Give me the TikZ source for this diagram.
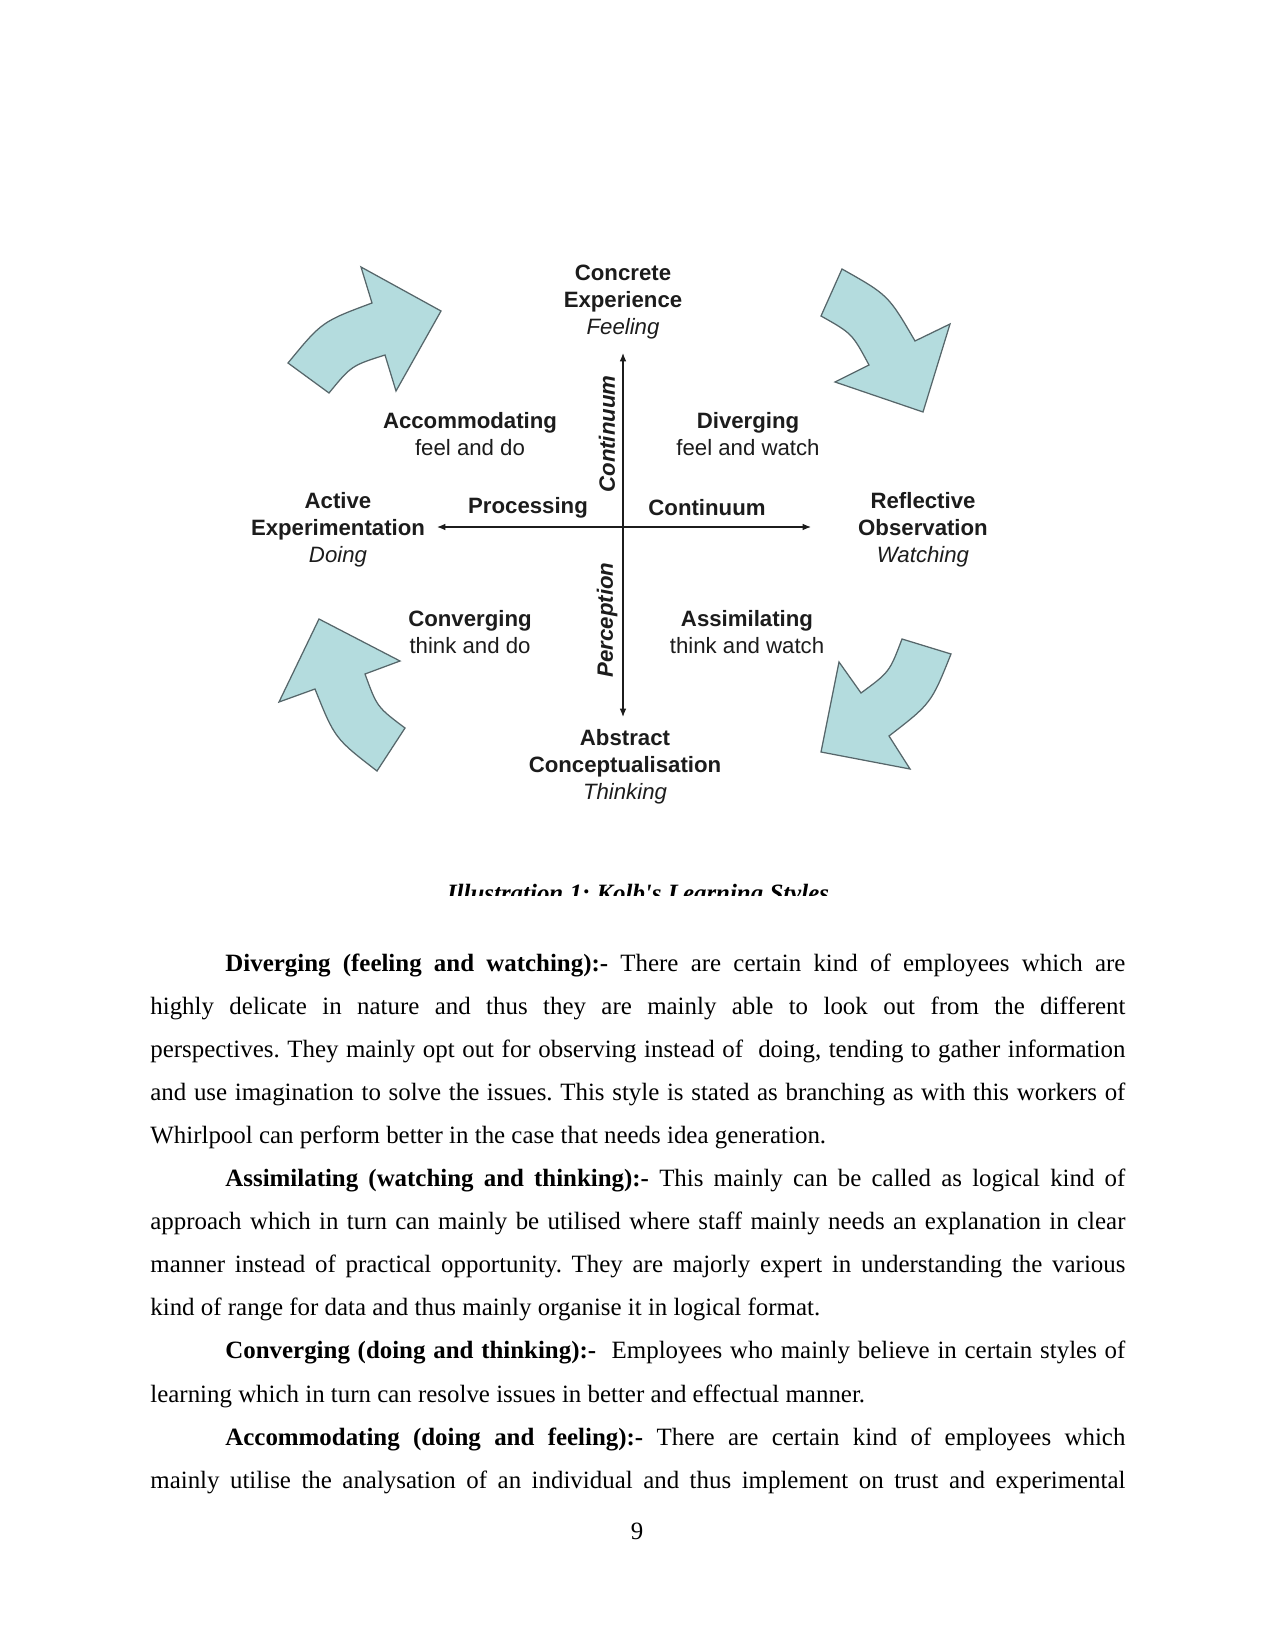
\documentclass[tikz,border=0pt]{standalone}
\usepackage{fontspec}
\setmainfont{Liberation Serif}
\newfontfamily\diagfont{Liberation Sans}
\usepackage{tikz}
\usetikzlibrary{
  arrows.meta,
  positioning,
}
\definecolor{labelInk}{HTML}{1C1C1C}
\definecolor{cycleFill}{HTML}{B4DCDE}
\definecolor{cycleEdge}{HTML}{56666A}
\newlength{\fullLine}\setlength{\fullLine}{6.5in}
\newlength{\indLine}\setlength{\indLine}{6in}
\frenchspacing
\tikzset{
  stageLabel/.style={
    align=center, inner sep=0pt, text=labelInk,
    font=\diagfont\fontsize{10.7}{13}\selectfont,
  },
  axisName/.style={
    inner sep=0pt, text=labelInk,
    font=\diagfont\bfseries\fontsize{10.7}{13}\selectfont,
  },
  axisNameVert/.style={
    axisName, rotate=90, font=\diagfont\bfseries\itshape\fontsize{10.7}{13}\selectfont,
  },
  axisArrow/.style={
    {Latex[length=4pt,width=3.2pt]}-{Latex[length=4pt,width=3.2pt]},
    line width=0.6pt, draw=labelInk,
  },
  cycleArrow/.style={
    fill=cycleFill, draw=cycleEdge, line width=0.6pt, line join=miter,
  },
  bodyLine/.style={
    anchor=base west, inner sep=0pt, font=\fontsize{12}{14}\selectfont,
  },
  captionText/.style={
    anchor=base, inner sep=0pt, font=\bfseries\itshape\fontsize{12}{14}\selectfont,
  },
}

\begin{document}
\begin{tikzpicture}[x=0.4818pt, y=-0.4818pt]

\fill[white] (0,0) rectangle (1275,1650);
\useasboundingbox (0,0) rectangle (1275,1650);

% Axes
\coordinate (origin)   at (623,527);
\coordinate (topTip)   at (623,353);
\coordinate (botTip)   at (623,717);
\coordinate (leftTip)  at (437,527);
\coordinate (rightTip) at (811,527);
\draw[axisArrow] (botTip) -- (topTip);
\draw[axisArrow] (leftTip) -- (rightTip);

% Stage labels at the ends of the axes
\node[stageLabel] (concExp) at (623,302) {%
  \textbf{Concrete}\\\textbf{Experience}\\\textit{Feeling}%
};
\node[stageLabel] (reflObs) at (923,530) {%
  \textbf{Reflective}\\\textbf{Observation}\\\textit{Watching}%
};
\node[stageLabel] (abstrConc) at (625,767) {%
  \textbf{Abstract}\\\textbf{Conceptualisation}\\\textit{Thinking}%
};
\node[stageLabel] (activeExp) at (338,530) {%
  \textbf{Active}\\\textbf{Experimentation}\\\textit{Doing}%
};

% Learning styles in the quadrants
\node[stageLabel] (accom) at (470,434) {\textbf{Accommodating}\\feel and do};
\node[stageLabel] (diverg) at (748,434) {\textbf{Diverging}\\feel and watch};
\node[stageLabel] (converg) at (470,632) {\textbf{Converging}\\think and do};
\node[stageLabel] (assim) at (747,632) {\textbf{Assimilating}\\think and watch};

% Axis names
\node[axisName] (procLbl) at (528,508) {Processing};
\node[axisName] (contLbl) at (707,508) {Continuum};
\node[axisNameVert] (contVert) at (607,434) {Continuum};
\node[axisNameVert] (percVert) at (607,620) {Perception};

% Cycle arrows
\draw[cycleArrow] (288,363) -- (329,393) .. controls (351.4,365.7) .. (385,355)
  -- (396,391) -- (441,311) -- (361,267) -- (372,303)
  .. controls (321.9,321.7) .. (288,363) -- cycle;
\draw[cycleArrow] (842,269) -- (821,316) .. controls (852.1,333.5) .. (869,365)
  -- (835,382) -- (923,412) -- (950,324) -- (915,341)
  .. controls (888.3,295.1) .. (842,269) -- cycle;
\draw[cycleArrow] (902,639) -- (951,654) .. controls (931.2,703.4) .. (889,736)
  -- (910,769) -- (821,752) -- (839,662) -- (861,693)
  .. controls (889.5,672) .. (902,639) -- cycle;
\draw[cycleArrow] (377,771) -- (405,728) .. controls (377,707) .. (365,674)
  -- (400,661) -- (319,619) -- (279,702) -- (315,689)
  .. controls (334.8,738.4) .. (377,771) -- cycle;

% Caption, cut off at its lower edge
\begin{scope}
  \clip (300,860) rectangle (980,895);
  \node[captionText] (caption) at (638,901) {Illustration 1: Kolb\textquotesingle s Learning Styles};
\end{scope}

% Body text
\node[bodyLine] (p1a) at (225,971.0) {\hbox to\indLine{\textbf{Diverging (feeling and watching):-} There are certain kind of employees which are}};
\node[bodyLine] (p1b) at (150,1014.1) {\hbox to\fullLine{highly delicate in nature and thus they are mainly able to look out from the different}};
\node[bodyLine] (p1c) at (150,1057.2) {\hbox to\fullLine{perspectives. They mainly opt out for observing instead of\ \ doing, tending to gather information}};
\node[bodyLine] (p1d) at (150,1100.3) {\hbox to\fullLine{and use imagination to solve the issues. This style is stated as branching as with this workers of}};
\node[bodyLine] (p1e) at (150,1143.4) {Whirlpool can perform better in the case that needs idea generation.};

\node[bodyLine] (p2a) at (225,1186.5) {\hbox to\indLine{\textbf{Assimilating (watching and thinking):-} This mainly can be called as logical kind of}};
\node[bodyLine] (p2b) at (150,1229.6) {\hbox to\fullLine{approach which in turn can mainly be utilised where staff mainly needs an explanation in clear}};
\node[bodyLine] (p2c) at (150,1272.7) {\hbox to\fullLine{manner instead of practical opportunity. They are majorly expert in understanding the various}};
\node[bodyLine] (p2d) at (150,1315.8) {kind of range for data and thus mainly organise it in logical format.};

\node[bodyLine] (p3a) at (225,1358.9) {\hbox to\indLine{\textbf{Converging (doing and thinking):-}\ \ Employees who mainly believe in certain styles of}};
\node[bodyLine] (p3b) at (150,1402.0) {learning which in turn can resolve issues in better and effectual manner.};

\node[bodyLine] (p4a) at (225,1445.1) {\hbox to\indLine{\textbf{Accommodating (doing and feeling):-} There are certain kind of employees which}};
\node[bodyLine] (p4b) at (150,1488.2) {\hbox to\fullLine{mainly utilise the analysation of an individual and thus implement on trust and experimental}};

% Page number
\node[bodyLine, anchor=base] (pageNum) at (637,1539) {9};

\end{tikzpicture}
\end{document}
